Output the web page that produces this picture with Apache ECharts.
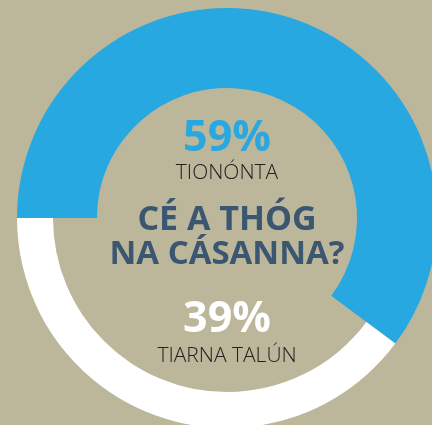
<!DOCTYPE html>
<html>
<head>
<meta charset="utf-8">
<script src="https://cdn.jsdelivr.net/npm/echarts@6/dist/echarts.min.js"></script>
<style>
  html, body { margin: 0; padding: 0; background: #bcb69b; }
  #chart-container { width: 432px; height: 425px; }
</style>
</head>
<body>
<div id="chart-container"></div>
<script>
// share of respondents
var categories = ['TIONÓNTA', 'TIARNA TALÚN'];
var shares = [59, 39];
var shareLabels = ['59%', '39%'];
var question = ['CÉ A THÓG', 'NA CÁSANNA?'];

var blue = '#28a8e0';
var white = '#ffffff';
var navy = '#3b5670';
var cx = 227;

var myChart = echarts.init(document.getElementById('chart-container'));

function label(y, text, fill, font) {
    return {
        type: 'text', x: cx, y: y, silent: true,
        style: { text: text, fill: fill, font: font, textAlign: 'center', textVerticalAlign: 'top' }
    };
}

// blue ring is thicker than the white one, so two pie layers
var option = {
    backgroundColor: '#bcb69b',
    animation: false,
    series: [
        {
            type: 'pie',
            silent: true,
            center: [cx, 218],
            radius: [130, 210],
            startAngle: 180,
            clockwise: true,
            label: { show: false },
            labelLine: { show: false },
            data: [
                { name: categories[0], value: shares[0], itemStyle: { color: blue } },
                { name: categories[1], value: shares[1], itemStyle: { color: 'rgba(0,0,0,0)' } }
            ]
        },
        {
            type: 'pie',
            silent: true,
            center: [cx, 218],
            radius: [174, 210],
            startAngle: 180,
            clockwise: true,
            label: { show: false },
            labelLine: { show: false },
            data: [
                { name: categories[0], value: shares[0], itemStyle: { color: 'rgba(0,0,0,0)' } },
                { name: categories[1], value: shares[1], itemStyle: { color: white } }
            ]
        }
    ],
    graphic: [
        label(117, shareLabels[0], blue, 'bold 43px "Open Sans"'),
        label(163, categories[0], '#222222', '300 21px "Open Sans"'),
        label(203, question[0], navy, 'bold 34px "Open Sans"'),
        label(238, question[1], navy, 'bold 33px "Open Sans"'),
        label(298, shareLabels[1], white, 'bold 43px "Open Sans"'),
        label(346, categories[1], '#222222', '300 21px "Open Sans"')
    ]
};
myChart.setOption(option);
</script>
</body>
</html>
